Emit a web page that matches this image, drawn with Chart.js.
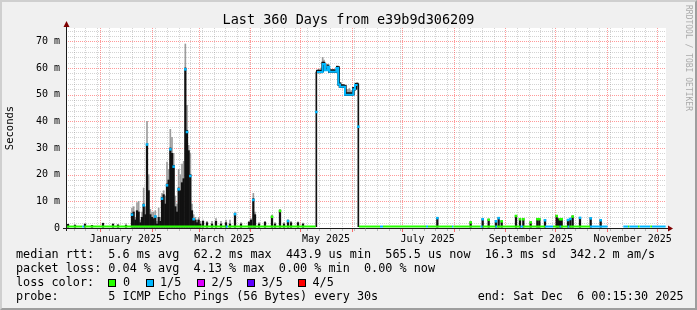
<!DOCTYPE html>
<html>
<head>
<meta charset="utf-8">
<title>Last 360 Days from e39b9d306209</title>
<script src="https://cdn.jsdelivr.net/npm/chart.js@4.4.1/dist/chart.umd.min.js"></script>
<style>
    html, body { margin: 0; padding: 0; background: #f0f0f0; }
    #pagina { position: relative; width: 697px; height: 310px; overflow: hidden;
              font-family: "DejaVu Sans Mono", monospace; color: #000; }
    #grafico { position: absolute; left: 0; top: 0; }
    #moldura { position: absolute; left: 0; top: 0; width: 697px; height: 310px; box-sizing: border-box;
               border: 2px solid; border-color: #cfcfcf #9e9e9e #9e9e9e #cfcfcf; pointer-events: none; }
    #titulo { position: absolute; left: 0; top: 11px; width: 697px; text-align: center;
              font-size: 13.5px; line-height: 16px; white-space: pre; }
    .linha { position: absolute; font-size: 11.8px; line-height: 14px; white-space: pre; }
    .caixa { position: absolute; width: 8px; height: 8px; box-sizing: border-box; border: 1px solid #000; }
    #marca { position: absolute; left: 684px; top: 5px; writing-mode: vertical-rl; font-size: 8px;
             line-height: 8px; color: #aaaaaa; white-space: pre; }
</style>
</head>
<body>
<div id="pagina">
    <canvas id="grafico" width="697" height="310"></canvas>
    <div id="titulo">Last 360 Days from e39b9d306209</div>
    <div id="marca">RRDTOOL / TOBI OETIKER</div>
    <div id="legenda"></div>
    <div id="moldura"></div>
</div>

<script>
// janela de 360 dias que termina em "Sat Dec  6 00:15:30 2025"
const fimJanela = Date.UTC(2025, 11, 6, 0, 15, 30);
const inicioJanela = fimJanela - 360 * 864e5;

// eixo x: inicio dos meses e rotulos (a cada 2 meses)
const iniciosMes = ["2025-01-01", "2025-02-01", "2025-03-01", "2025-04-01", "2025-05-01", "2025-06-01",
                    "2025-07-01", "2025-08-01", "2025-09-01", "2025-10-01", "2025-11-01", "2025-12-01"];
const mesesRotulo = ["2025-01-01", "2025-03-01", "2025-05-01", "2025-07-01", "2025-09-01", "2025-11-01"];
const textosMes = ["January 2025", "March 2025", "May 2025", "July 2025", "September 2025", "November 2025"];
const primeiraSegunda = "2024-12-16";

// eixo y (ms)
const valoresY = [0, 10, 20, 30, 40, 50, 60, 70];
const rotulosY = ["0", "10 m", "20 m", "30 m", "40 m", "50 m", "60 m", "70 m"];

// cores de perda: 0, 1/5, 2/5, 3/5, 4/5
const coresPerda = ["#26ff00", "#00b8ff", "#dd00ff", "#5e00ff", "#ff0000"];
const nomesPerda = ["0", "1/5", "2/5", "3/5", "4/5"];

// fumaca: [dia, topo preto (ms), topo cinza (ms)]
const picosInicio = [
    [1.2, 1.4, 1.4], [5.4, 1.1, 1.1], [11.4, 1.5, 1.5], [15.6, 1.0, 1.0], [22.2, 1.8, 1.8],
    [28.2, 1.5, 1.5], [31.2, 1.2, 1.2], [36.0, 1.0, 1.6]
];

const picosInverno = [
    [39.6, 5.5, 7.5], [40.6, 6, 8], [41.6, 3, 4], [42.6, 6.5, 9.5], [43.6, 6, 10], [44.6, 2, 3],
    [45.6, 4, 6], [46.6, 9, 15], [47.6, 5, 8], [48.6, 31.5, 40], [49.6, 14, 20], [50.6, 5, 7],
    [51.6, 4, 6], [52.6, 3.5, 6], [53.6, 4.5, 6.5], [54.6, 1.5, 2.5], [55.6, 4, 7.5], [56.6, 2.5, 4],
    [57.6, 11.5, 13], [58.6, 12.5, 14], [59.6, 9, 12], [60.6, 16.5, 24.7], [61.6, 18, 22],
    [62.6, 30, 37], [63.6, 28, 34], [64.6, 23.5, 28], [65.6, 8, 12], [66.6, 6, 9], [67.6, 15, 22],
    [68.6, 14, 20], [69.6, 17, 24], [70.6, 18.5, 25], [71.6, 60, 69], [72.6, 36.6, 46],
    [73.6, 29, 31], [74.6, 20, 28], [75.6, 6.5, 9], [76.6, 3.5, 5], [77.6, 3, 4], [78.6, 2, 3],
    [79.6, 3, 4], [80.6, 1.5, 2.5],
    [82.2, 2.5, 3], [84.6, 2, 2.5], [87.6, 1.5, 2.5], [90, 2.5, 3.5], [93, 1.5, 2.5], [96, 2, 3],
    [98.4, 1.5, 3], [101.4, 5.5, 6], [105, 1.5, 2], [109.8, 2.2, 2.5], [111, 3, 3.5],
    [112.4, 11, 13], [113.4, 5, 6], [115.8, 1.5, 2], [119.4, 2.2, 2.5], [123.6, 4.4, 4.8],
    [125.4, 1.5, 2], [128.4, 6.6, 7], [130.8, 1.5, 2], [133.2, 2.8, 3.2], [135, 2, 2.5],
    [139.2, 2, 2.3], [142.2, 1.5, 1.8]
];

const picosOutono = [
    [222.8, 3.9, 3.9], [242.8, 2.3, 2.3], [250, 3.5, 3.5], [253.6, 3.3, 3.3], [258, 2.7, 2.7],
    [259.6, 3.9, 3.9], [261.4, 2.7, 2.7], [270, 4.7, 4.7], [272.4, 3.5, 3.5], [274.4, 3.5, 3.5],
    [278.8, 2.3, 2.3], [282.8, 3.5, 3.5], [284, 3.5, 3.5], [287.4, 3.1, 3.1], [294.4, 4.7, 4.7],
    [295.2, 3.5, 3.5], [296.4, 3.5, 3.5], [297.4, 3.5, 3.5], [301.2, 3.2, 3.2], [302.6, 3.6, 3.6],
    [304, 4.5, 4.5], [308.4, 4.0, 4.0], [314.8, 3.8, 3.8], [320.8, 3.1, 3.1]
];

// planalto de maio: [dia, minimo, maximo, topo cinza]
const planaltoMaio = [
    [150.8, 58.2, 59.2, 59.2], [151.6, 58.2, 59.2, 59.5], [152.4, 58.2, 59.2, 59.2], [153.2, 58.2, 59.2, 60],
    [154.0, 58.5, 62.2, 64], [154.8, 61.2, 62.2, 63], [155.6, 59, 60, 61.5], [156.4, 59, 60, 61.5],
    [157.2, 60.2, 61.2, 61.2], [158.0, 58.3, 59.3, 59.3], [158.8, 58.3, 59.3, 59.5], [159.6, 58.3, 59.3, 59.3],
    [160.4, 58.3, 59.3, 59.5], [161.2, 58.3, 59.3, 59.3], [162.0, 58.3, 59.3, 59.3], [162.8, 59.7, 60.7, 60.7],
    [163.6, 53.5, 60.5, 60.5], [164.4, 52.7, 54.5, 54.5], [165.2, 52.7, 53.7, 54], [166.0, 52.7, 53.7, 53.7],
    [166.8, 52.7, 53.7, 53.7], [167.6, 49.7, 53.5, 53.5], [168.4, 49.7, 50.7, 52], [169.2, 49.7, 50.7, 52],
    [170.0, 49.7, 50.7, 52.3], [170.8, 49.7, 50.7, 51.5], [171.6, 49.7, 50.7, 51.5], [172.4, 49.9, 52.7, 52.7],
    [173.2, 51.7, 52.7, 53], [174.0, 52, 54.3, 54.3], [174.8, 53.3, 54.3, 54.5]
];

// subida e descida do planalto: [dia, minimo, maximo]
const transicoesMaio = [[150.2, 0.5, 58.5], [175.4, 0.5, 54]];

// mediana em degraus: [dia, ms, perda]
const mediana = [
    [0, 0.55, 0], [9.8, 0.55, 1], [11, 0.55, 0], [95.9, 0.55, 1], [97.1, 0.55, 0],
    [149.9, 0.55, 0], [150.1, null, 0],
    [150.6, 58.5, 1], [154.0, 61.5, 1], [155.4, 59.2, 1], [156.8, 60.5, 1], [158.0, 58.6, 1],
    [162.2, 60, 1], [163.4, 53.8, 1], [164.4, 53, 1], [167.4, 50, 1], [172.4, 52, 1],
    [173.4, 53.6, 1], [175.0, 53.6, 1], [175.1, null, 1],
    [175.7, 0.55, 0], [188.4, 0.55, 1], [190.2, 0.55, 0], [216, 0.55, 1], [217.2, 0.55, 0],
    [231.6, 0.55, 1], [232.4, 0.55, 0], [248.8, 0.55, 1], [250, 0.55, 0], [257.6, 0.55, 1],
    [258.6, 0.55, 0], [272.6, 0.55, 1], [274.2, 0.55, 0], [287.4, 0.55, 1], [292.2, 0.55, 0],
    [296.2, 0.55, 1], [297, 0.55, 0], [301, 0.55, 1], [302, 0.55, 0], [314.4, 0.55, 1],
    [325, 0.55, 1], [325.2, null, 1],
    [334.4, 0.55, 1], [337.2, 0.55, 0], [338, 0.55, 1], [343.2, 0.55, 0], [344.2, 0.55, 1],
    [350.6, 0.55, 0], [351.6, 0.55, 1], [359.8, 0.55, 1]
];

// marcas da mediana no alto dos picos: [dia, ms, perda]
const marcas = [
    [39.6, 5, 1], [46.6, 8.5, 1], [48.6, 31.3, 1], [53.6, 4.3, 1], [57.6, 11, 1], [60.6, 16, 1],
    [62.6, 29.5, 1], [64.6, 23, 1], [67.6, 14.5, 1], [71.6, 59.5, 1], [72.6, 36, 1], [74.6, 19.5, 1],
    [76.6, 3.3, 1], [101.4, 5.2, 1], [112.4, 10.5, 1], [123.6, 4.2, 0], [128.4, 6.4, 0],
    [133.2, 2.6, 1], [150.2, 43.5, 1], [175.4, 38, 1],
    [222.8, 3.7, 1], [242.8, 2.1, 0], [250, 3.3, 1], [253.6, 3.1, 0], [258, 2.5, 1], [259.6, 3.7, 1],
    [261.4, 2.5, 0], [270, 4.5, 0], [272.4, 3.3, 0], [274.4, 3.3, 0], [278.8, 2.1, 0],
    [282.8, 3.3, 0], [284, 3.3, 0], [287.4, 2.9, 1], [294.4, 4.5, 0], [296.4, 3.3, 0],
    [297.4, 3.3, 0], [301.2, 3.0, 1], [302.6, 3.4, 1], [304, 4.3, 0], [308.4, 3.8, 1],
    [314.8, 3.6, 1], [320.8, 2.9, 1]
];

// textos da legenda
const linhaRtt = "median rtt:  5.6 ms avg  62.2 ms max  443.9 us min  565.5 us now  16.3 ms sd  342.2 m am/s";
const linhaPerda = "packet loss: 0.04 % avg  4.13 % max  0.00 % min  0.00 % now";
const linhaProbe = "probe:" + " ".repeat(7) + "5 ICMP Echo Pings (56 Bytes) every 30s" +
                   " ".repeat(14) + "end: Sat Dec  6 00:15:30 2025";


const diaDe = texto => (Date.parse(texto + "T00:00:00Z") - inicioJanela) / 864e5;

const corMaior = "rgba(255,0,0,0.4)";
const corMenor = "rgba(120,120,120,0.33)";

const diasMes = iniciosMes.map(diaDe);

const diasSemana = [];
for (let d = diaDe(primeiraSegunda); d < 360; d += 7) {
    if (!diasMes.some(m => Math.abs(m - d) < 0.5)) diasSemana.push(d);
}

const marcasX = mesesRotulo.map((m, i) => ({ value: diaDe(m) + 15, texto: textosMes[i] }));

// fumaca preta e cinza
const pretos = [];
const cinzas = [];

[picosInicio, picosInverno, picosOutono].forEach(lista => {
    lista.forEach(([dia, topo, cinza]) => {
        pretos.push({ x: dia, y: [0.3, topo] });
        if (cinza > topo) cinzas.push({ x: dia, y: [topo, cinza] });
    });
});

const planalto = [];
planaltoMaio.forEach(([dia, min, max, cinza]) => {
    planalto.push({ x: dia, y: [min, max] });
    if (cinza > max) cinzas.push({ x: dia, y: [max, cinza] });
});

const transicoes = transicoesMaio.map(([dia, min, max]) => ({ x: dia, y: [min, max] }));

pretos.sort((a, b) => a.x - b.x);
cinzas.sort((a, b) => a.x - b.x);

const pontosMediana = mediana.map(([d, v]) => ({ x: d, y: v }));
const perdaMediana = mediana.map(item => item[2]);

const pontosMarca = marcas.map(([d, v]) => ({ x: d, y: v }));
const coresMarca = marcas.map(item => coresPerda[item[2]]);

function pontilhado(ctx, x1, y1, x2, y2, cor) {
    ctx.strokeStyle = cor;
    ctx.beginPath();
    ctx.moveTo(x1, y1);
    ctx.lineTo(x2, y2);
    ctx.stroke();
}

// fundo branco, grade pontilhada, eixos e setas
const moldura = {
    id: "moldura",
    beforeDraw(chart) {
        const { ctx, chartArea: a } = chart;
        ctx.save();
        ctx.fillStyle = "#ffffff";
        ctx.fillRect(a.left, a.top, a.right - a.left, a.bottom - a.top);
        ctx.restore();
    },
    beforeDatasetsDraw(chart) {
        const { ctx, chartArea: a, scales } = chart;
        ctx.save();
        ctx.lineWidth = 1;
        ctx.setLineDash([1, 1]);

        for (let v = 2; v < 75; v += 2) {
            const y = Math.round(scales.y.getPixelForValue(v)) + 0.5;
            pontilhado(ctx, a.left, y, a.right, y, v % 10 === 0 ? corMaior : corMenor);
        }

        diasSemana.forEach(d => {
            const x = Math.floor(scales.x.getPixelForValue(d)) + 0.5;
            pontilhado(ctx, x, a.top, x, a.bottom, corMenor);
        });

        diasMes.forEach(d => {
            const x = Math.floor(scales.x.getPixelForValue(d)) + 0.5;
            pontilhado(ctx, x, a.top, x, a.bottom, corMaior);
        });

        // tracinhos abaixo do eixo x
        ctx.setLineDash([]);
        diasMes.forEach(d => {
            const x = Math.floor(scales.x.getPixelForValue(d)) + 0.5;
            pontilhado(ctx, x, a.bottom + 1, x, a.bottom + 4, "rgba(255,0,0,0.55)");
        });
        diasSemana.forEach(d => {
            const x = Math.floor(scales.x.getPixelForValue(d)) + 0.5;
            pontilhado(ctx, x, a.bottom + 1, x, a.bottom + 3, "rgba(120,120,120,0.45)");
        });
        ctx.restore();
    },
    afterDatasetsDraw(chart) {
        const { ctx, chartArea: a } = chart;
        ctx.save();
        ctx.strokeStyle = "#1a1a1a";
        ctx.lineWidth = 1;

        ctx.beginPath();
        ctx.moveTo(a.left - 3, a.bottom + 0.5);
        ctx.lineTo(a.right + 2, a.bottom + 0.5);
        ctx.stroke();

        ctx.beginPath();
        ctx.moveTo(a.left + 0.5, a.bottom + 3);
        ctx.lineTo(a.left + 0.5, a.top - 2);
        ctx.stroke();

        ctx.fillStyle = "#7f0000";
        ctx.beginPath();
        ctx.moveTo(a.left + 0.5, a.top - 7);
        ctx.lineTo(a.left - 2.5, a.top - 1);
        ctx.lineTo(a.left + 3.5, a.top - 1);
        ctx.closePath();
        ctx.fill();

        ctx.beginPath();
        ctx.moveTo(a.right + 7, a.bottom + 0.5);
        ctx.lineTo(a.right + 2, a.bottom - 2.5);
        ctx.lineTo(a.right + 2, a.bottom + 3.5);
        ctx.closePath();
        ctx.fill();
        ctx.restore();
    }
};

Chart.defaults.font.family = "'DejaVu Sans Mono', monospace";
Chart.defaults.color = "#000";

new Chart(document.getElementById("grafico"), {

    type: "bar",

    data: {
        datasets: [
            {
                type: "line",
                label: "marcas",
                data: pontosMarca,
                showLine: false,
                pointStyle: "rect",
                pointRadius: 1.8,
                pointBorderWidth: 0,
                pointBackgroundColor: coresMarca
            },
            {
                type: "line",
                label: "mediana",
                data: pontosMediana,
                stepped: true,
                spanGaps: false,
                borderWidth: 2,
                borderColor: coresPerda[0],
                pointRadius: 0,
                segment: {
                    borderColor: ctx => coresPerda[perdaMediana[ctx.p0DataIndex]]
                }
            },
            {
                label: "transicoes",
                data: transicoes,
                backgroundColor: "#111111",
                borderWidth: 0,
                barThickness: 1,
                grouped: false
            },
            {
                label: "planalto",
                data: planalto,
                backgroundColor: "#111111",
                borderWidth: 0,
                barThickness: 2,
                grouped: false
            },
            {
                label: "fumaca",
                data: pretos,
                backgroundColor: "#111111",
                borderWidth: 0,
                barThickness: 1.6,
                grouped: false
            },
            {
                label: "fumaca cinza",
                data: cinzas,
                backgroundColor: "#9c9c9c",
                borderWidth: 0,
                barThickness: 1,
                grouped: false
            }
        ]
    },

    options: {
        responsive: false,
        devicePixelRatio: 1,
        animation: false,
        events: [],
        layout: {
            padding: { left: 0, top: 28, right: 31, bottom: 60 }
        },
        plugins: {
            legend: { display: false },
            tooltip: { enabled: false }
        },
        scales: {
            x: {
                type: "linear",
                min: 0,
                max: 360,
                offset: false,
                afterFit: s => { s.height = 22; },
                afterBuildTicks: s => { s.ticks = marcasX.map(t => ({ ...t })); },
                ticks: {
                    autoSkip: false,
                    maxRotation: 0,
                    padding: 2,
                    color: "#000",
                    font: { size: 10 },
                    callback: (v, i, lista) => lista[i].texto || ""
                },
                grid: { display: false, drawTicks: true, tickLength: 3, offset: false },
                border: { display: false }
            },
            y: {
                type: "linear",
                min: 0,
                max: 75,
                afterFit: s => { s.width = 66; },
                afterBuildTicks: s => { s.ticks = valoresY.map(v => ({ value: v })); },
                ticks: {
                    autoSkip: false,
                    padding: 4,
                    color: "#000",
                    font: { size: 10 },
                    callback: v => rotulosY[valoresY.indexOf(v)]
                },
                grid: { display: false, drawTicks: true, tickLength: 2 },
                border: { display: false },
                title: {
                    display: true,
                    text: "Seconds",
                    color: "#000",
                    font: { size: 10.5 },
                    padding: { top: 4, bottom: 0 }
                }
            }
        }
    },

    plugins: [moldura]

});

// legenda em texto
const legenda = document.getElementById("legenda");

function texto(conteudo, x, y) {
    const el = document.createElement("div");
    el.className = "linha";
    el.style.left = x + "px";
    el.style.top = y + "px";
    el.textContent = conteudo;
    legenda.appendChild(el);
}

texto(linhaRtt, 16, 247);
texto(linhaPerda, 16, 261);
texto("loss color:", 16, 275);
texto(linhaProbe, 16, 289);

const caixasX = [108, 146, 197, 247, 298];
const nomesX = [123, 160, 211.5, 261.5, 312.5];

nomesPerda.forEach((nome, i) => {
    const caixa = document.createElement("div");
    caixa.className = "caixa";
    caixa.style.left = caixasX[i] + "px";
    caixa.style.top = "279px";
    caixa.style.background = coresPerda[i];
    legenda.appendChild(caixa);
    texto(nome, nomesX[i], 275);
});
</script>
</body>
</html>
